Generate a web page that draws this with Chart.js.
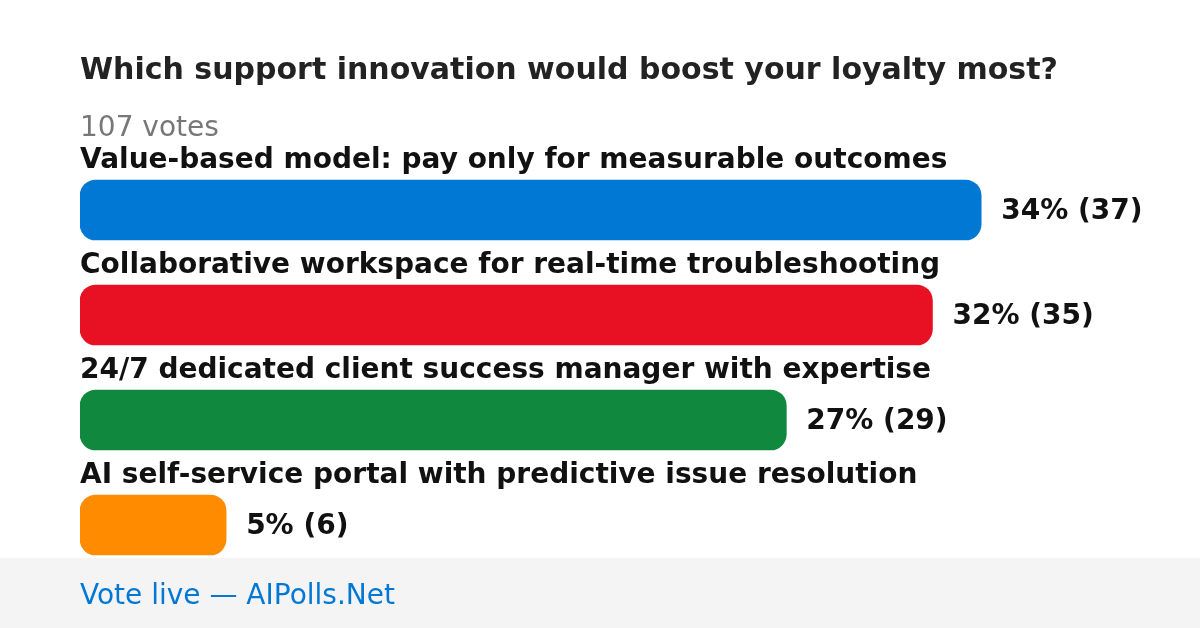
<!DOCTYPE html>
<html>
<head>
<meta charset="utf-8">
<script src="https://cdn.jsdelivr.net/npm/chart.js@4/dist/chart.umd.min.js"></script>
<style>
  html, body { margin: 0; padding: 0; background: #fff; }
  #wrap { width: 1200px; height: 628px; position: relative; }
</style>
</head>
<body>
<div id="wrap"><canvas id="poll" width="1200" height="628"></canvas></div>
<script>
// --- Data ---
const pollTitle = "Which support innovation would boost your loyalty most?";
const options = [
  "Value-based model: pay only for measurable outcomes",
  "Collaborative workspace for real-time troubleshooting",
  "24/7 dedicated client success manager with expertise",
  "AI self-service portal with predictive issue resolution"
];
const votes = [37, 35, 29, 6];
const barColors = ["#0078d4", "#e81123", "#10893e", "#ff8c00"];
const footerText = "Vote live \u2014 AIPolls.Net";

const totalVotes = votes.reduce((a, b) => a + b, 0);
const FONT = '"DejaVu Sans", sans-serif';

// --- Text overlay: title, vote count, option labels, values, footer ---
const pollText = {
  id: "pollText",
  afterDraw(chart) {
    const ctx = chart.ctx;
    const meta = chart.getDatasetMeta(0);
    ctx.save();
    ctx.textAlign = "left";
    ctx.textBaseline = "alphabetic";

    ctx.fillStyle = "#222";
    ctx.font = "bold 30px " + FONT;
    ctx.fillText(pollTitle, 80, 79);

    ctx.fillStyle = "#777";
    ctx.font = "28px " + FONT;
    ctx.fillText(totalVotes + " votes", 80, 136);

    meta.data.forEach((bar, i) => {
      const top = bar.y - bar.height / 2;
      ctx.fillStyle = "#111";
      ctx.font = "bold 28px " + FONT;
      ctx.fillText(options[i], 80, top - 12);

      // percentages are truncated, as in the original poll
      const pct = Math.floor(votes[i] / totalVotes * 100);
      ctx.fillText(pct + "% (" + votes[i] + ")", bar.x + 20, bar.y + 9);
    });

    // footer band
    ctx.fillStyle = "#f4f4f4";
    ctx.fillRect(0, 558, 1200, 70);
    ctx.fillStyle = "#0078d4";
    ctx.font = "28px " + FONT;
    ctx.fillText(footerText, 80, 604);

    ctx.restore();
  }
};

new Chart(document.getElementById("poll"), {
  type: "bar",
  data: {
    labels: options,
    datasets: [{
      data: votes,
      backgroundColor: barColors,
      borderRadius: 16,
      borderSkipped: false,
      barThickness: 60
    }]
  },
  options: {
    indexAxis: "y",
    responsive: false,
    animation: false,
    events: [],
    layout: { padding: { left: 80, right: 80, top: 157.5, bottom: 50.5 } },
    scales: {
      x: { display: false, min: 0, max: 42.7 },
      y: { display: false }
    },
    plugins: {
      legend: { display: false },
      tooltip: { enabled: false }
    }
  },
  plugins: [pollText]
});
</script>
</body>
</html>
